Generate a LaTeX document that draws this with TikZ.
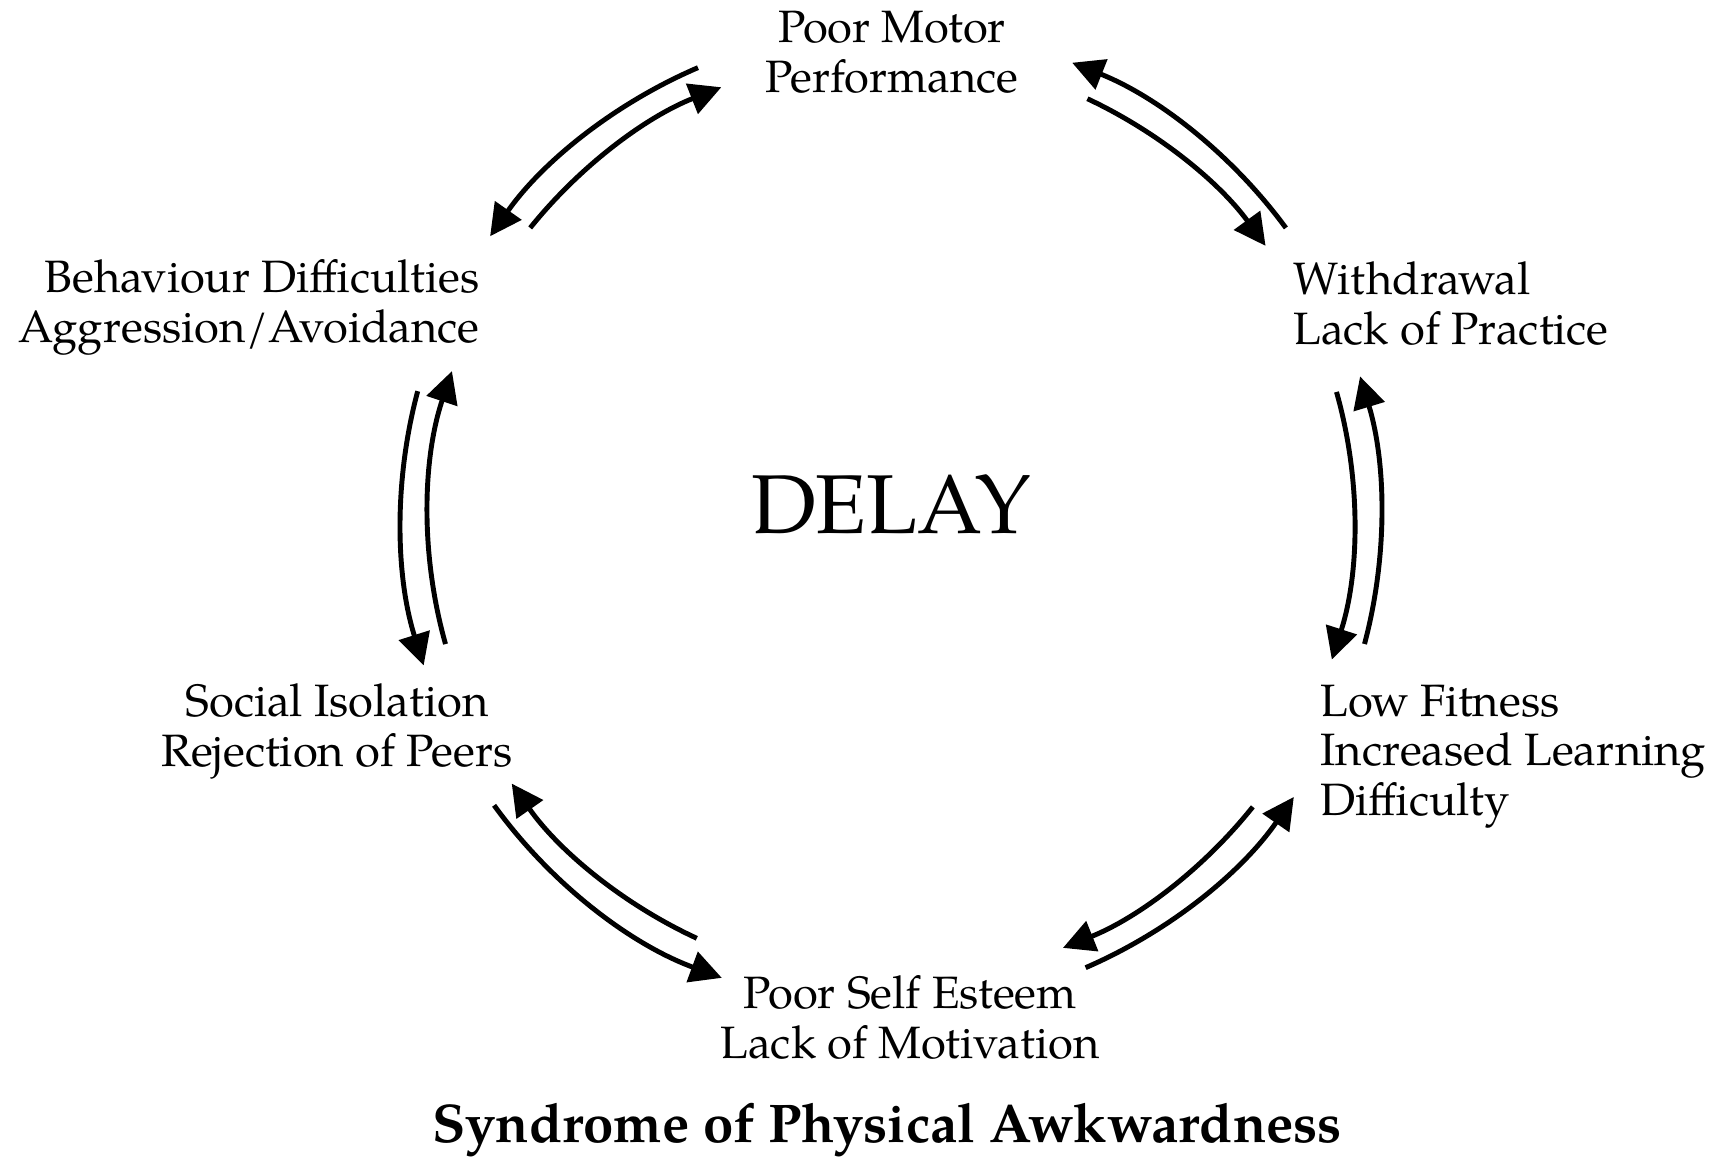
\documentclass[tikz,border=0pt]{standalone}
\usepackage{fontspec}
\setmainfont{TeX Gyre Pagella}
\usetikzlibrary{arrows.meta}
\tikzset{
  lbl/.style={font=\fontsize{25.8}{28}\selectfont, inner sep=0pt, anchor=base},
  cyc/.style={line width=2.8pt, -{Triangle[length=18pt,width=18pt]}},
}
\begin{document}
\begin{tikzpicture}
\useasboundingbox (0,0) rectangle (34.34,-23.2);
\coordinate (C) at (17.82,-10.36);
\def\ri{9.26}
\def\ro{9.80}
% labels (base anchor = baseline of last line)
\node[lbl, align=center] (motor) at (17.84,-1.84) {Poor Motor\\Performance};
\node[lbl, align=left, anchor=base west] (withdraw) at (25.86,-6.88) {Withdrawal\\Lack of Practice};
\node[lbl, align=left, anchor=base west] (fitness) at (26.40,-16.30) {Low Fitness\\Increased Learning\\Difficulty};
\node[lbl, align=center] (esteem) at (18.20,-21.16) {Poor Self Esteem\\Lack of Motivation};
\node[lbl, align=center] (social) at (6.74,-15.32) {Social Isolation\\Rejection of Peers};
\node[lbl, align=right, anchor=base east] (behav) at (9.60,-6.84) {Behaviour Difficulties\\Aggression/Avoidance};
\node[inner sep=0pt, anchor=base, font=\fontsize{47.5}{52}\selectfont] (delay) at (17.82,-10.66) {DELAY};
\node[inner sep=0pt, anchor=base, font=\fontsize{31}{34}\selectfont\bfseries] (title) at (17.74,-22.84) {Syndrome of Physical Awkwardness};
% arrows: top-left pair
\draw[cyc] (C) ++(113.2:\ro) arc[start angle=113.2, end angle=144.9, radius=\ro];
\draw[cyc] (C) ++(141.2:\ri) arc[start angle=141.2, end angle=111.5, radius=\ri];
% top-right pair
\draw[cyc] (C) ++(36.3:\ro) arc[start angle=36.3, end angle=68.3, radius=\ro];
\draw[cyc] (C) ++(64.9:\ri) arc[start angle=64.9, end angle=36.0, radius=\ri];
% right pair
\draw[cyc] (C) ++(15.8:\ri) arc[start angle=15.8, end angle=-17.8, radius=\ri];
\draw[cyc] (C) ++(-14.9:\ro) arc[start angle=-14.9, end angle=16.8, radius=\ro];
% left pair
\draw[cyc] (C) ++(165.0:\ro) arc[start angle=165.0, end angle=197.5, radius=\ro];
\draw[cyc] (C) ++(195.8:\ri) arc[start angle=195.8, end angle=161.5, radius=\ri];
% bottom-left pair
\draw[cyc] (C) ++(245.2:\ri) arc[start angle=245.2, end angle=215.0, radius=\ri];
\draw[cyc] (C) ++(215.9:\ro) arc[start angle=215.9, end angle=249.8, radius=\ro];
% bottom-right pair
\draw[cyc] (C) ++(-38.6:\ri) arc[start angle=-38.6, end angle=-68.2, radius=\ri];
\draw[cyc] (C) ++(-66.6:\ro) arc[start angle=-66.6, end angle=-34.7, radius=\ro];
\end{tikzpicture}
\end{document}
